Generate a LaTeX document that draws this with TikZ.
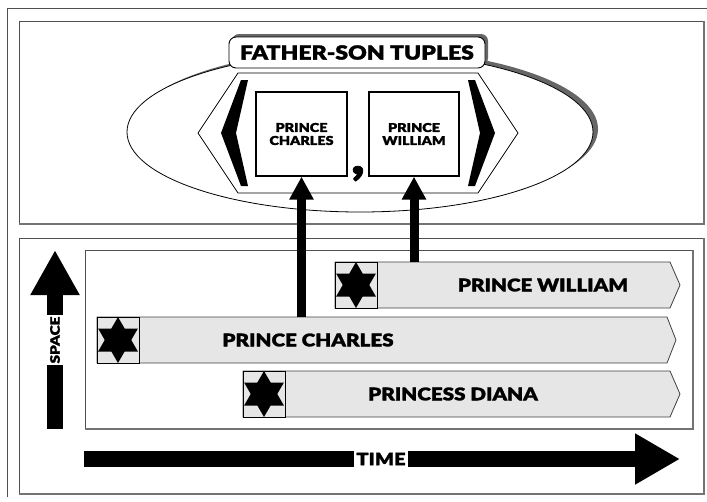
\documentclass[tikz,border=0pt]{standalone}
\usepackage{fontspec}
\setmainfont{Lato Black}[FakeStretch=1.18, FakeBold=1.5]
\usetikzlibrary{arrows.meta,shadows}
\definecolor{barfill}{HTML}{E6E6E6}
\definecolor{frameline}{HTML}{505050}
\definecolor{shadowgray}{HTML}{666666}
\tikzset{
  panel/.style={draw=frameline, line width=0.9pt},
  panelshade/.style={draw=frameline!80, line width=2pt},
  barshape/.style={draw=black!75, fill=barfill, line width=0.8pt},
  bartext/.style={font=\fontsize{17.5}{17.5}\selectfont, inner sep=0pt},
  boxtext/.style={font=\fontsize{12.2}{13}\selectfont, align=center},
  tuplebox/.style={draw=black, line width=1.3pt, fill=white, inner sep=0pt, boxtext},
  uparrow/.style={line width=9pt, -{Triangle[width=23pt,length=23pt]}},
  bigarrow/.style={line width=16pt},
  axislabel/.style={fill=white, inner sep=2pt, minimum height=16pt},
  starbox/.pic={
    \draw[fill=barfill, line width=0.8pt] (-21,-23) rectangle (21,23);
    \fill (0,-23) -- (19.9,11.5) -- (-19.9,11.5) -- cycle;
    \fill (0,23) -- (19.9,-11.5) -- (-19.9,-11.5) -- cycle;
  }
}
\begin{document}
\begin{tikzpicture}[x=1pt,y=-1pt]
\useasboundingbox (0,0) rectangle (707,501);
% outer frame (top and left)
\draw[panel] (7,497) -- (7,8) -- (707,8);
% top panel
\draw[panel] (19,21) rectangle (704,224);
\draw[panelshade] (704,21) -- (704,224) -- (19,224);
% bottom panel
\draw[panel] (19,238) rectangle (704,494);
\draw[panelshade] (704,238) -- (704,494) -- (19,494);
% inner timeline frame
\draw[panel] (85,250) rectangle (693,429);
\draw[draw=frameline!80, line width=1.5pt] (693,250) -- (693,429) -- (85,429);

% bars
\draw[barshape] (335,262) -- (670,262) -- (680,285) -- (670,308) -- (335,308) -- cycle;
\draw[barshape] (97,317) -- (667,317) -- (676,340) -- (667,363) -- (97,363) -- cycle;
\draw[barshape] (243,371) -- (670,371) -- (680,394) -- (670,417) -- (243,417) -- cycle;
\pic at (356,285) {starbox};
\pic at (118,340) {starbox};
\pic at (264,394) {starbox};
\node[bartext] (william) at (543,285) {PRINCE WILLIAM};
\node[bartext] (charles) at (308,340) {PRINCE CHARLES};
\node[bartext] (diana) at (453,394) {PRINCESS DIANA};
\coordinate (wtop) at (414,262);
\coordinate (ctop) at (301.5,317);

% space and time axes
\coordinate (sbot) at (55,429);
\coordinate (stop) at (55,250);
\draw[bigarrow, -{Triangle[width=46pt,length=45pt]}] (sbot) -- (stop);
\node[axislabel, rotate=90, font=\fontsize{13}{13}\selectfont] (space) at (55,340) {SPACE};
\coordinate (tleft) at (84,459);
\coordinate (tright) at (680,459);
\draw[bigarrow, -{Triangle[width=48pt,length=45pt]}] (tleft) -- (tright);
\node[axislabel, font=\fontsize{17}{17}\selectfont] (time) at (381,459) {TIME};

% ellipse with shadow
\fill[shadowgray] (365,129) ellipse [x radius=233, y radius=80];
\draw[fill=white, line width=0.8pt] (360,132) ellipse [x radius=233, y radius=80];
% hexagon
\draw[fill=white, line width=0.8pt] (198,133) -- (238,73) -- (478,73) -- (518,133) -- (478,193) -- (238,193) -- cycle;
% angle brackets
\fill (241,80) -- (248,80) -- (236,133) -- (248,186) -- (241,186) -- (221,133) -- cycle;
\fill (475,80) -- (468,80) -- (480,133) -- (468,186) -- (475,186) -- (495,133) -- cycle;
% title
\node[draw=black, line width=0.9pt, fill=white, rounded corners=7pt, minimum width=256pt, minimum height=31pt, inner sep=0pt,
  general shadow={fill=shadowgray, shadow xshift=3pt, shadow yshift=3pt},
  font=\fontsize{19.5}{19.5}\selectfont] (title) at (357,52.5) {FATHER-SON TUPLES};
% tuple boxes
\node[tuplebox, minimum width=91pt, minimum height=84pt] (cbox) at (301.5,134) {PRINCE\\CHARLES};
\node[tuplebox, minimum width=90pt, minimum height=84pt] (wbox) at (414,134) {PRINCE\\WILLIAM};
\node[anchor=base, inner sep=0pt, font=\fontsize{48}{48}\selectfont] (comma) at (358,174) {,};

% connectors
\draw[uparrow] (ctop) -- (cbox.south);
\draw[uparrow] (wtop) -- (wbox.south);
\end{tikzpicture}
\end{document}
